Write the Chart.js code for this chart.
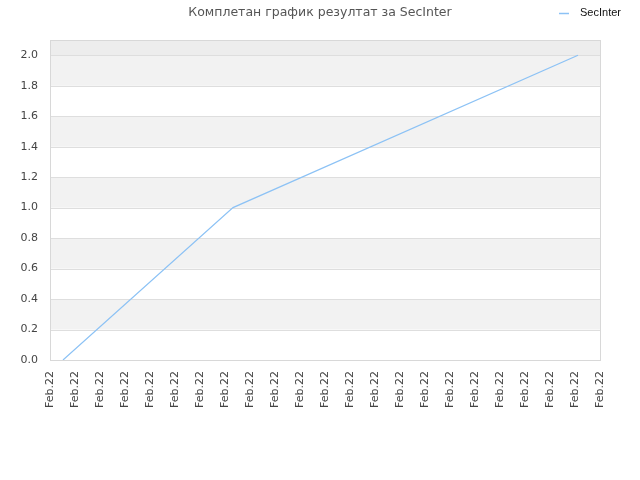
<!DOCTYPE html>
<html><head><meta charset="utf-8">
<script src="https://cdn.jsdelivr.net/npm/chart.js@4/dist/chart.umd.min.js"></script>
<style>html,body{margin:0;padding:0;background:#fff}#wrap{width:640px;height:480px}</style>
</head><body><div id="wrap"><canvas id="c" width="640" height="480"></canvas></div>
<script>
const titleText = "Комплетан график резултат за SecInter";
const seriesName = "SecInter";
const xLabels = ["Feb.22","Feb.22","Feb.22","Feb.22","Feb.22","Feb.22","Feb.22","Feb.22","Feb.22","Feb.22","Feb.22","Feb.22","Feb.22","Feb.22","Feb.22","Feb.22","Feb.22","Feb.22","Feb.22","Feb.22","Feb.22","Feb.22","Feb.22"];
const pointX = [0.52, 7.32, 21.12];
const pointY = [0.0, 1.0, 2.0];
const yMax = 2.1;
const lineColor = "#8cc2f5";

const deco = {
  id: 'deco',
  beforeDatasetsDraw(chart) {
    const {ctx, chartArea: a, scales: {y}} = chart;
    ctx.save();
    for (let v = 0; v < 2.0; v += 0.4) {
      const lo = v + 0.2, hi = v + 0.4;
      ctx.fillStyle = '#f2f2f2';
      const t = y.getPixelForValue(hi), b = y.getPixelForValue(lo);
      ctx.fillRect(a.left, t, a.right - a.left, b - t);
    }
    ctx.fillStyle = '#ededed';
    const t2 = y.getPixelForValue(yMax), b2 = y.getPixelForValue(2.0);
    ctx.fillRect(a.left, t2, a.right - a.left, b2 - t2);
    ctx.strokeStyle = '#dedede'; ctx.lineWidth = 1;
    for (let v = 0.2; v <= 2.01; v += 0.2) {
      const p = Math.round(y.getPixelForValue(v)) + 0.5;
      ctx.beginPath(); ctx.moveTo(a.left, p); ctx.lineTo(a.right, p); ctx.stroke();
    }
    ctx.strokeStyle = '#d8d8d8';
    ctx.strokeRect(Math.round(a.left)+0.5, Math.round(a.top)+0.5, Math.round(a.right-a.left), Math.round(a.bottom-a.top));
    ctx.restore();
  },
  afterDraw(chart) {
    const ctx = chart.ctx;
    ctx.save();
    ctx.fillStyle = '#555';
    ctx.font = '12.5px "DejaVu Sans"';
    ctx.textAlign = 'center'; ctx.textBaseline = 'middle';
    ctx.fillText(titleText, 320, 12.5);
    ctx.strokeStyle = lineColor; ctx.lineWidth = 1.5;
    ctx.beginPath(); ctx.moveTo(559, 13.5); ctx.lineTo(569, 13.5); ctx.stroke();
    ctx.fillStyle = '#111';
    ctx.font = '11px "Liberation Sans"';
    ctx.textAlign = 'left';
    ctx.fillText(seriesName, 580, 12.5);
    ctx.restore();
  }
};

new Chart(document.getElementById('c'), {
  type: 'line',
  data: {
    datasets: [{
      label: seriesName,
      data: pointX.map((x, i) => ({x, y: pointY[i]})),
      borderColor: lineColor,
      borderWidth: 1.2,
      pointRadius: 0,
      tension: 0,
      fill: false
    }]
  },
  options: {
    responsive: false,
    animation: false,
    layout: {padding: {top: 40, right: 40, left: 0, bottom: 0}},
    plugins: {legend: {display: false}, title: {display: false}, tooltip: {enabled: false}},
    scales: {
      x: {
        type: 'linear', min: 0, max: xLabels.length - 1,
        grid: {display: false, drawTicks: false},
        border: {display: false},
        afterFit(s) { s.height = 120; },
        ticks: {
          stepSize: 1, autoSkip: false, minRotation: 90, maxRotation: 90, padding: 11,
          color: '#444', font: {family: 'DejaVu Sans', size: 11},
          callback: (v) => xLabels[Math.round(v)] || ''
        }
      },
      y: {
        min: 0, max: yMax,
        grid: {display: false, drawTicks: false},
        border: {display: false},
        afterFit(s) { s.width = 50; },
        afterBuildTicks(s) {
          const t = [];
          for (let i = 0; i <= 10; i++) t.push({value: Math.round(i * 2) / 10});
          s.ticks = t;
        },
        ticks: {
          padding: 12, color: '#444', font: {family: 'DejaVu Sans', size: 11},
          callback: (v) => Number(v).toFixed(1)
        }
      }
    }
  },
  plugins: [deco]
});
</script>
</body></html>
